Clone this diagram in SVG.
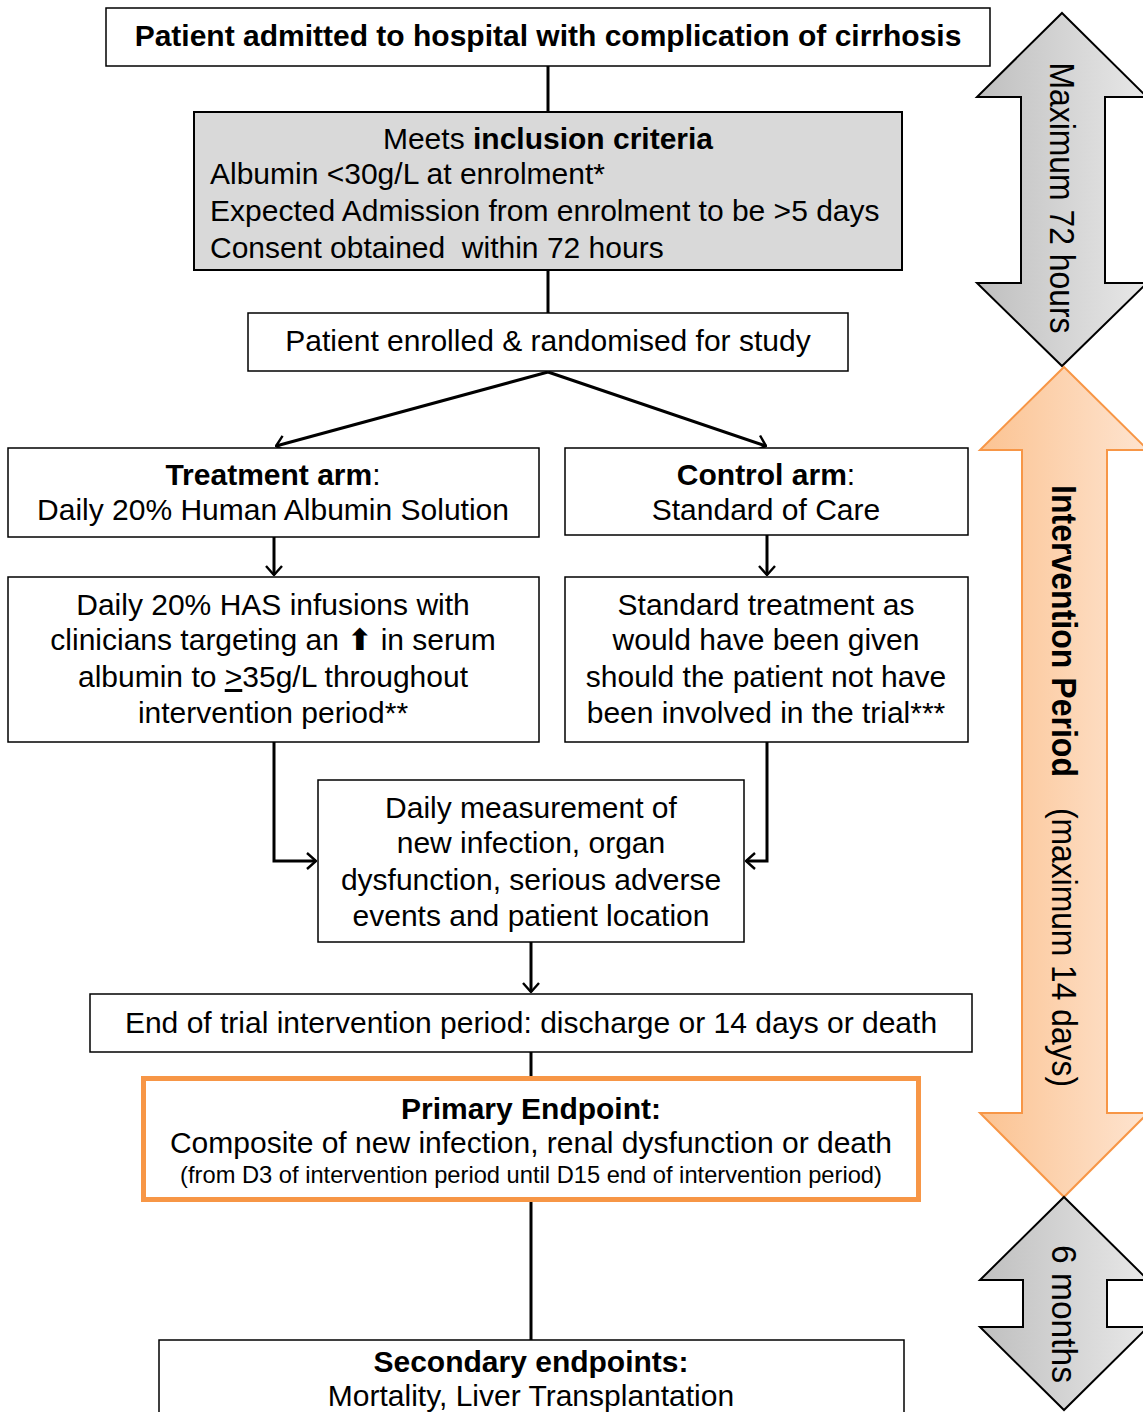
<svg xmlns="http://www.w3.org/2000/svg" width="1143" height="1412" viewBox="0 0 1143 1412">
<defs>
<linearGradient id="gGrey" x1="0" y1="0" x2="1" y2="0">
<stop offset="0" stop-color="#bfbfbf"/>
<stop offset="1" stop-color="#e8e8e8"/>
</linearGradient>
<linearGradient id="gOrange" x1="0" y1="0" x2="1" y2="0">
<stop offset="0" stop-color="#fbc392"/>
<stop offset="1" stop-color="#fee4d0"/>
</linearGradient>
<marker id="arr" viewBox="0 0 11 18" refX="10" refY="9" markerWidth="11" markerHeight="18" markerUnits="userSpaceOnUse" orient="auto">
<path d="M1,1 L10,9 L1,17" fill="none" stroke="#000" stroke-width="2.4"/>
</marker>
<style>
.box{fill:#fff;stroke:#000;stroke-width:1.5}
.t{font-family:"Liberation Sans",Arial,sans-serif;font-size:30px;fill:#000}
.c{text-anchor:middle}
.b{font-weight:bold}
.s{font-size:23.7px}
.up{font-family:"DejaVu Sans",sans-serif;font-size:30px;font-weight:bold}
.con{fill:none;stroke:#000;stroke-width:3}
.rt{font-family:"Liberation Sans",Arial,sans-serif;font-size:35px;fill:#000}
</style>
</defs>

<g id="connectors">
<line class="con" x1="548" y1="66" x2="548" y2="112"/>
<line class="con" x1="548" y1="270" x2="548" y2="313"/>
<line class="con" x1="548" y1="372" x2="276" y2="446" marker-end="url(#arr)"/>
<line class="con" x1="548" y1="372" x2="766" y2="446" marker-end="url(#arr)"/>
<line class="con" x1="274" y1="537" x2="274" y2="575" marker-end="url(#arr)"/>
<line class="con" x1="767" y1="535" x2="767" y2="575" marker-end="url(#arr)"/>
<polyline class="con" points="274,742 274,861 316,861" marker-end="url(#arr)"/>
<polyline class="con" points="767,742 767,861 746,861" marker-end="url(#arr)"/>
<line class="con" x1="531" y1="942" x2="531" y2="992" marker-end="url(#arr)"/>
<line class="con" x1="531" y1="1052" x2="531" y2="1078"/>
<line class="con" x1="531" y1="1200" x2="531" y2="1340"/>
</g>

<g id="n-admitted">
<rect class="box" x="106" y="8" width="884" height="58" stroke-width="2"/>
<text class="t c b" x="548" y="46">Patient admitted to hospital with complication of cirrhosis</text>
</g>

<g id="n-inclusion">
<rect x="194" y="112" width="708" height="158" fill="#d9d9d9" stroke="#000" stroke-width="2"/>
<text class="t c" x="548" y="149">Meets <tspan class="b">inclusion criteria</tspan></text>
<text class="t" x="210" y="184">Albumin &lt;30g/L at enrolment*</text>
<text class="t" x="210" y="221">Expected Admission from enrolment to be &gt;5 days</text>
<text class="t" x="210" y="258" xml:space="preserve">Consent obtained  within 72 hours</text>
</g>

<g id="n-enrolled">
<rect class="box" x="248" y="313" width="600" height="58" stroke-width="2"/>
<text class="t c" x="548" y="351">Patient enrolled &amp; randomised for study</text>
</g>

<g id="n-treatment">
<rect class="box" x="8" y="448" width="531" height="89"/>
<text class="t c" x="273" y="485"><tspan class="b">Treatment arm</tspan>:</text>
<text class="t c" x="273" y="520">Daily 20% Human Albumin Solution</text>
</g>

<g id="n-control">
<rect class="box" x="565" y="448" width="403" height="87"/>
<text class="t c" x="766" y="485"><tspan class="b">Control arm</tspan>:</text>
<text class="t c" x="766" y="520">Standard of Care</text>
</g>

<g id="n-has">
<rect class="box" x="8" y="577" width="531" height="165"/>
<text class="t c" x="273" y="615">Daily 20% HAS infusions with</text>
<text class="t c" x="273" y="650">clinicians targeting an <tspan class="up">⬆</tspan> in serum</text>
<text class="t c" x="273" y="687">albumin to <tspan text-decoration="underline">&gt;</tspan>35g/L throughout</text>
<text class="t c" x="273" y="723">intervention period**</text>
</g>

<g id="n-standard">
<rect class="box" x="565" y="577" width="403" height="165"/>
<text class="t c" x="766" y="615">Standard treatment as</text>
<text class="t c" x="766" y="650">would have been given</text>
<text class="t c" x="766" y="687">should the patient not have</text>
<text class="t c" x="766" y="723">been involved in the trial***</text>
</g>

<g id="n-measure">
<rect class="box" x="318" y="780" width="426" height="162"/>
<text class="t c" x="531" y="818">Daily measurement of</text>
<text class="t c" x="531" y="853">new infection, organ</text>
<text class="t c" x="531" y="890">dysfunction, serious adverse</text>
<text class="t c" x="531" y="926">events and patient location</text>
</g>

<g id="n-end">
<rect class="box" x="90" y="994" width="882" height="58" stroke-width="2"/>
<text class="t c" x="531" y="1033">End of trial intervention period: discharge or 14 days or death</text>
</g>

<g id="n-primary">
<rect x="143.5" y="1078.5" width="775" height="121" fill="#fff" stroke="#f79646" stroke-width="5"/>
<text class="t c b" x="531" y="1119">Primary Endpoint:</text>
<text class="t c" x="531" y="1153">Composite of new infection, renal dysfunction or death</text>
<text class="t c s" x="531" y="1183">(from D3 of intervention period until D15 end of intervention period)</text>
</g>

<g id="n-secondary">
<rect class="box" x="159" y="1340" width="745" height="100" stroke-width="2"/>
<text class="t c b" x="531" y="1372">Secondary endpoints:</text>
<text class="t c" x="531" y="1406">Mortality, Liver Transplantation</text>
</g>

<g id="n-arrow72">
<path d="M1062,13 L1147,97 L1105,97 L1105,283 L1147,283 L1062,366 L977,283 L1021,283 L1021,97 L977,97 Z" fill="url(#gGrey)" stroke="#000" stroke-width="2"/>
<text class="rt c" transform="translate(1050,198) rotate(90)" textLength="271" lengthAdjust="spacingAndGlyphs">Maximum 72 hours</text>
</g>

<g id="n-arrowint">
<path d="M1064,367 L1148,450 L1107,450 L1107,1113 L1148,1113 L1064,1197 L980,1113 L1022,1113 L1022,450 L980,450 Z" fill="url(#gOrange)" stroke="#f79646" stroke-width="2"/>
<text class="rt b" transform="translate(1052,485) rotate(90)" textLength="292" lengthAdjust="spacingAndGlyphs">Intervention Period</text>
<text class="rt" transform="translate(1052,808) rotate(90)" textLength="279" lengthAdjust="spacingAndGlyphs">(maximum 14 days)</text>
</g>

<g id="n-arrow6m">
<path d="M1064,1197 L1148,1280 L1107,1280 L1107,1327 L1148,1327 L1064,1410 L980,1327 L1023,1327 L1023,1280 L980,1280 Z" fill="url(#gGrey)" stroke="#000" stroke-width="2"/>
<text class="rt c" transform="translate(1052,1314) rotate(90)" textLength="138" lengthAdjust="spacingAndGlyphs">6 months</text>
</g>
</svg>
